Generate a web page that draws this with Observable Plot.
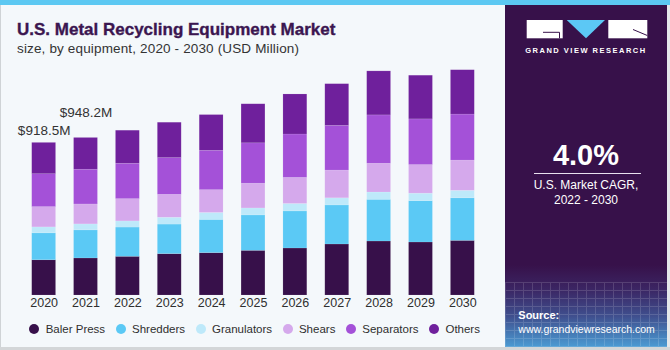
<!DOCTYPE html>
<html>
<head>
<meta charset="utf-8">
<script src="https://cdn.jsdelivr.net/npm/d3@7"></script>
<script src="https://cdn.jsdelivr.net/npm/@observablehq/plot@0.6"></script>
<style>
  html, body { margin: 0; padding: 0; background: #ffffff; }
  #page { position: relative; width: 670px; height: 350px; overflow: hidden; background: #F4F8FB;
          font-family: "Liberation Sans", Arial, sans-serif; }
  .abs { position: absolute; white-space: nowrap; line-height: 1; }
  #topbar { position: absolute; left: 0; top: 0; width: 670px; height: 5px; background: #5CC8F2; }
  #bl { position: absolute; left: 0; top: 5px; width: 1px; height: 345px; background: #cfd3d6; }
  #bb { position: absolute; left: 0; top: 347px; width: 670px; height: 3px; background: #d3d6d8; }
  #br { position: absolute; left: 667px; top: 5px; width: 3px; height: 345px; background: #e4e7ea; }
  #panel { position: absolute; left: 505px; top: 5px; width: 162px; height: 342px;
           background: linear-gradient(to bottom, #37114A 0%, #37114A 76%, #3b2563 83%, #3f4f8e 91%, #4b9bd3 100%); }
  #grid { position: absolute; left: 505px; top: 282px; width: 162px; height: 65px; opacity: 0.14;
          background-image: repeating-linear-gradient(to right, #ffffff 0 1px, transparent 1px 9px),
                            repeating-linear-gradient(to bottom, #ffffff 0 1px, transparent 1px 8px); }
  #chart { position: absolute; left: 0; top: 60px; }
  #legend { position: absolute; left: 29.3px; top: 322px; height: 14px; display: flex; align-items: center;
            font-size: 11.5px; color: #2f2f2f; }
  .item { display: flex; align-items: center; margin-right: 10.5px; }
  .dot { width: 10px; height: 10px; border-radius: 50%; margin-right: 6.4px; }
</style>
</head>
<body>
<div id="page">
  <div id="topbar"></div>
  <div id="bl"></div>
  <div id="br"></div>
  <div id="bb"></div>
  <div id="panel"></div>
  <div id="grid"></div>

  <div class="abs" style="left:17px; top:20.6px; font-size:17px; font-weight:bold; color:#3B1650; -webkit-text-stroke:0.35px #3B1650;">U.S. Metal Recycling Equipment Market</div>
  <div class="abs" style="left:17px; top:41.6px; font-size:13.5px; letter-spacing:0.15px; color:#333333;">size, by equipment, 2020 - 2030 (USD Million)</div>

  <div id="chart"></div>
  <div id="legend"></div>

  <svg style="position:absolute; left:0; top:0;" width="670" height="60">
    <rect x="526.7" y="20" width="36" height="18.3" fill="#ffffff"/>
    <polyline points="543,32.3 559.5,32.3 559.5,38.3" fill="none" stroke="#37114A" stroke-width="1"/>
    <polygon points="566.7,20 605,20 586,38.3" fill="#5CC8F5"/>
    <rect x="608.3" y="20" width="39" height="18.3" fill="#ffffff"/>
    <line x1="633" y1="29.5" x2="647.3" y2="35.5" stroke="#37114A" stroke-width="1"/>
  </svg>
  <div class="abs" style="left:505px; width:162px; text-align:center; top:47px; font-size:7.5px; font-weight:bold; letter-spacing:1.5px; color:#ffffff;">GRAND VIEW RESEARCH</div>

  <div class="abs" style="left:505px; width:162px; text-align:center; top:141.2px; font-size:29px; font-weight:bold; color:#ffffff;">4.0%</div>
  <div class="abs" style="left:534px; top:173px; width:106.7px; height:1px; background:#e8e0ee;"></div>
  <div class="abs" style="left:505px; width:162px; text-align:center; top:179.2px; font-size:12px; color:#ffffff;">U.S. Market CAGR,</div>
  <div class="abs" style="left:505px; width:162px; text-align:center; top:193.9px; font-size:12px; color:#ffffff;">2022 - 2030</div>

  <div class="abs" style="left:518.3px; top:310px; font-size:11px; font-weight:bold; color:#ffffff;">Source:</div>
  <div class="abs" style="left:518.3px; top:324.4px; font-size:10.5px; color:#ffffff;">www.grandviewresearch.com</div>
</div>

<script>
// ---- data (USD Million) ----
const years = ["2020", "2021", "2022", "2023", "2024", "2025", "2026", "2027", "2028", "2029", "2030"];
const seriesNames = ["Baler Press", "Shredders", "Granulators", "Shears", "Separators", "Others"];
const balerPress  = [212, 223, 233, 249, 255, 269, 283, 307, 325, 319, 329];
const shredders   = [162, 169, 176, 178, 200, 213, 223, 235, 251, 249, 256];
const granulators = [36, 36, 37, 41, 42, 42, 45, 43, 44, 45, 45];
const shears      = [122, 120, 134, 138, 137, 149, 157, 167, 173, 172, 182];
const separators  = [198, 209, 213, 221, 237, 243, 261, 269, 291, 275, 277];
const others      = [188.5, 191.2, 199, 213, 215, 235, 241, 251, 265, 263, 267];
const seriesColors = ["#37104A", "#5BC9F5", "#BEE9FA", "#D5A9EC", "#A451D8", "#6F209C"];
const labelYears = ["2020", "2021"];
const labelTexts = ["$918.5M", "$948.2M"];

const seriesValues = [balerPress, shredders, granulators, shears, separators, others];
const data = [];
seriesNames.forEach((name, i) => {
  seriesValues[i].forEach((v, j) => data.push({year: years[j], segment: name, value: v}));
});
const totals = years.map((_, j) => d3.sum(seriesValues, s => s[j]));
const labelData = labelYears.map((y, i) => ({year: y, total: totals[years.indexOf(y)], text: labelTexts[i]}));

const font = '"Liberation Sans", Arial, sans-serif';
const chart = Plot.plot({
  width: 505,
  height: 260,
  marginLeft: 13.7,
  marginRight: 12.7,
  marginTop: 2.4,
  marginBottom: 25,
  style: {background: "transparent", fontFamily: font, fontSize: "12.5px", color: "#2f2f2f"},
  x: {domain: years, padding: 0.43, round: false, label: null, tickSize: 0, tickPadding: 3},
  y: {domain: [0, 1400], axis: null},
  color: {domain: seriesNames, range: seriesColors},
  marks: [
    Plot.barY(data, {x: "year", y: "value", fill: "segment", stroke: "#ffffff", strokeOpacity: 0.18, strokeWidth: 0.6}),
    Plot.text(labelData.slice(0, 1), {x: "year", y: "total", text: "text", dy: -12.7, fontSize: 13.5, fill: "#333333"}),
    Plot.text(labelData.slice(1), {x: "year", y: "total", text: "text", dy: -25.6, fontSize: 13.5, fill: "#333333"})
  ]
});
document.getElementById("chart").appendChild(chart);

const legend = document.getElementById("legend");
seriesNames.forEach((name, i) => {
  const item = document.createElement("div");
  item.className = "item";
  const dot = document.createElement("span");
  dot.className = "dot";
  dot.style.background = seriesColors[i];
  const label = document.createElement("span");
  label.textContent = name;
  item.appendChild(dot);
  item.appendChild(label);
  legend.appendChild(item);
});
</script>
</body>
</html>
